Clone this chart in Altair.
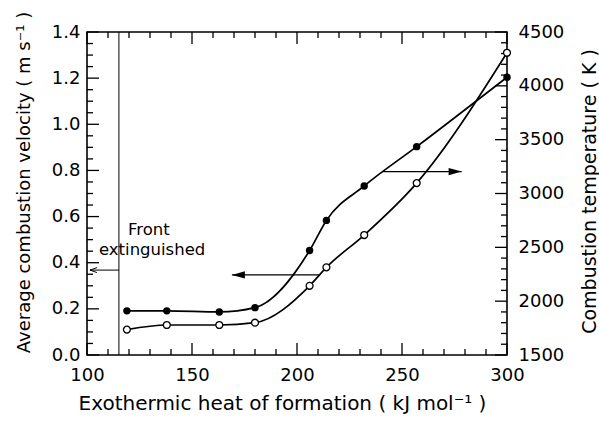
import altair as alt
import pandas as pd

# ---- data ----
heat = [119, 138, 163, 180, 206, 214, 232, 257, 300]            # kJ/mol
velocity = [0.11, 0.13, 0.13, 0.14, 0.30, 0.38, 0.52, 0.745, 1.31]  # m/s (open circles)
temperature = [1910, 1910, 1900, 1940, 2470, 2750, 3070, 3435, 4080]  # K (filled circles)

x_major = [100, 150, 200, 250, 300]
x_minor = [110, 120, 130, 140, 160, 170, 180, 190, 210, 220, 230, 240, 260, 270, 280, 290]
v_major = [0.0, 0.2, 0.4, 0.6, 0.8, 1.0, 1.2, 1.4]
v_minor = [0.05, 0.1, 0.15, 0.25, 0.3, 0.35, 0.45, 0.5, 0.55, 0.65, 0.7, 0.75,
           0.85, 0.9, 0.95, 1.05, 1.1, 1.15, 1.25, 1.3, 1.35]
t_major = [1500, 2000, 2500, 3000, 3500, 4000, 4500]
t_minor = [t for t in range(1600, 4500, 100) if t % 500 != 0]

# annotation segments (data units on heat / velocity axes)
seg_x1 = [115.2, 101.4, 169.0, 241.0]
seg_x2 = [115.2, 115.2, 211.0, 278.4]
seg_y1 = [0.0, 0.368, 0.347, 0.795]
seg_y2 = [1.4, 0.368, 0.347, 0.795]
seg_w = [1.0, 1.0, 1.3, 1.3]

label_text = ["Front", "extinguished"]
label_x = [119.5, 105.7]
label_y = [0.52, 0.433]

FONT = "DejaVu Sans"
W, H = 420, 323
MAJ, MIN = 12, 6

xscale = alt.Scale(domain=[100, 300], nice=False, zero=False)
vscale = alt.Scale(domain=[0, 1.4], nice=False, zero=False)
tscale = alt.Scale(domain=[1500, 4500], nice=False, zero=False)

x_axis = alt.Axis(values=x_major, ticks=False, domain=False, grid=False,
                  labelFont=FONT, labelFontSize=18, labelColor="black", labelPadding=11,
                  labelFlush=False, title="Exothermic heat of formation ( kJ mol⁻¹ )",
                  titleFont=FONT, titleFontSize=20, titleFontWeight="normal", titleColor="black",
                  titleX=195, titleY=54, titleBaseline="alphabetic")
v_axis = alt.Axis(values=v_major, format=".1f", ticks=False, domain=False, grid=False,
                  labelFont=FONT, labelFontSize=18, labelColor="black", labelPadding=7,
                  labelFlush=False, title="Average combustion velocity ( m s⁻¹ )",
                  titleFont=FONT, titleFontSize=18, titleFontWeight="normal", titleColor="black",
                  titleAngle=270, titleX=-63, titleY=150, titleBaseline="middle")
t_axis = alt.Axis(values=t_major, format="d", ticks=False, domain=False, grid=False,
                  orient="right",
                  labelFont=FONT, labelFontSize=18, labelColor="black", labelPadding=11,
                  labelFlush=False, title="Combustion temperature ( K )",
                  titleFont=FONT, titleFontSize=19, titleFontWeight="normal", titleColor="black",
                  titleAngle=270, titleX=82, titleY=159, titleBaseline="middle")

def X(field):
    return alt.X(field, scale=xscale, axis=x_axis)

df = pd.DataFrame({"heat": heat, "velocity": velocity, "temperature": temperature})
base = alt.Chart(df)

# main series
v_line = base.mark_line(interpolate="monotone", color="black", strokeWidth=1.7).encode(
    x=X("heat:Q"),
    y=alt.Y("velocity:Q", scale=vscale, axis=v_axis),
)
t_line = base.mark_line(interpolate="monotone", color="black", strokeWidth=1.7).encode(
    x=X("heat:Q"),
    y=alt.Y("temperature:Q", scale=tscale, axis=t_axis),
)
v_pts = base.mark_point(shape="circle", filled=True, fill="white", stroke="black",
                        strokeWidth=1.3, size=48, opacity=1).encode(
    x=X("heat:Q"),
    y=alt.Y("velocity:Q", scale=vscale, axis=None),
)
t_pts = base.mark_point(shape="circle", filled=True, color="black", size=55, opacity=1).encode(
    x=X("heat:Q"),
    y=alt.Y("temperature:Q", scale=tscale, axis=None),
)

segs = alt.Chart(pd.DataFrame({"x1": seg_x1, "x2": seg_x2, "y1": seg_y1, "y2": seg_y2, "w": seg_w}))
seg_layer = segs.mark_rule(color="black").encode(
    x=X("x1:Q"), x2="x2:Q",
    y=alt.Y("y1:Q", scale=vscale, axis=None), y2="y2:Q",
    strokeWidth=alt.StrokeWidth("w:Q", scale=None),
)

head_left = alt.Chart(pd.DataFrame({"x": [seg_x1[2]], "y": [seg_y1[2]]})).mark_point(
    shape="M0,0 L2,-0.55 L2,0.55 Z", filled=True, color="black", size=169, opacity=1).encode(
    x=X("x:Q"), y=alt.Y("y:Q", scale=vscale, axis=None))
head_right = alt.Chart(pd.DataFrame({"x": [seg_x2[3]], "y": [seg_y1[3]]})).mark_point(
    shape="M0,0 L-2,-0.55 L-2,0.55 Z", filled=True, color="black", size=169, opacity=1).encode(
    x=X("x:Q"), y=alt.Y("y:Q", scale=vscale, axis=None))
head_front = alt.Chart(pd.DataFrame({"x": [seg_x1[1]], "y": [seg_y1[1]]})).mark_point(
    shape="M2,-0.7 L0,0 L2,0.7", filled=False, color="black", strokeWidth=1, size=49, opacity=1).encode(
    x=X("x:Q"), y=alt.Y("y:Q", scale=vscale, axis=None))

labels = alt.Chart(pd.DataFrame({"t": label_text, "x": label_x, "y": label_y})).mark_text(
    font=FONT, fontSize=16.5, align="left", baseline="alphabetic", color="black").encode(
    x=X("x:Q"), y=alt.Y("y:Q", scale=vscale, axis=None), text="t:N")

def xticks(vals, length):
    d = alt.Chart(pd.DataFrame({"v": vals}))
    bottom = d.mark_rule(color="black", strokeWidth=1.3).encode(
        x=X("v:Q"), y=alt.value(H), y2=alt.value(H - length))
    top = d.mark_rule(color="black", strokeWidth=1.3).encode(
        x=X("v:Q"), y=alt.value(0), y2=alt.value(length))
    return [bottom, top]

def vticks(vals, length):
    return alt.Chart(pd.DataFrame({"v": vals})).mark_rule(color="black", strokeWidth=1.3).encode(
        y=alt.Y("v:Q", scale=vscale, axis=None), x=alt.value(0), x2=alt.value(length))

def tticks(vals, length):
    return alt.Chart(pd.DataFrame({"t": vals})).mark_rule(color="black", strokeWidth=1.3).encode(
        y=alt.Y("t:Q", scale=tscale, axis=None), x=alt.value(W), x2=alt.value(W - length))

chart = alt.layer(
    v_line, t_line,
    seg_layer, head_left, head_right, head_front, labels,
    *xticks(x_major, MAJ), *xticks(x_minor, MIN),
    vticks(v_major, MAJ), vticks(v_minor, MIN),
    tticks(t_major, MAJ), tticks(t_minor, MIN),
    v_pts, t_pts,
).resolve_scale(y="independent").properties(
    width=W, height=H,
    autosize=alt.AutoSizeParams(type="none"),
    padding={"left": 87, "top": 32, "right": 92, "bottom": 74},
    background="white",
).configure_view(stroke="black", strokeWidth=1.6)

chart.save("out.html", embed_options={"renderer": "svg", "actions": False})
